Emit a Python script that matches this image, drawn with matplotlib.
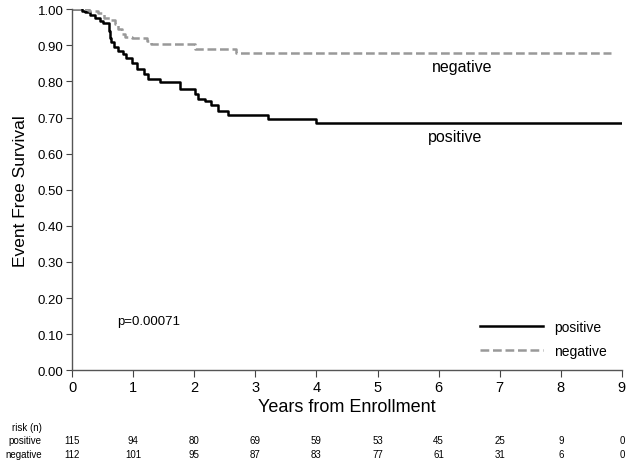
import matplotlib
matplotlib.use('Agg')
import matplotlib.pyplot as plt
from matplotlib.transforms import blended_transform_factory

plt.rcParams['font.family'] = ['Liberation Sans', 'DejaVu Sans']

# Kaplan-Meier step points (time in years, survival)
pos_t = [0, 0.16, 0.21, 0.29, 0.38, 0.46, 0.51, 0.60, 0.62, 0.64, 0.69, 0.76, 0.84, 0.89,
         0.975, 1.06, 1.17, 1.25, 1.44, 1.76, 2.01, 2.06, 2.17, 2.28, 2.39, 2.55, 3.21, 4.0, 9.0]
pos_s = [1.0, 0.995, 0.991, 0.984, 0.975, 0.968, 0.963, 0.940, 0.920, 0.908, 0.894, 0.885,
         0.875, 0.866, 0.852, 0.834, 0.820, 0.806, 0.797, 0.778, 0.765, 0.751, 0.746, 0.734,
         0.718, 0.706, 0.697, 0.686, 0.686]

neg_t = [0, 0.27, 0.43, 0.53, 0.62, 0.70, 0.76, 0.81, 0.87, 0.98, 1.22, 1.30, 2.01, 2.69, 8.82]
neg_s = [1.0, 0.994, 0.989, 0.977, 0.970, 0.958, 0.945, 0.931, 0.923, 0.919, 0.912, 0.903,
         0.891, 0.880, 0.880]

years = [0, 1, 2, 3, 4, 5, 6, 7, 8, 9]
risk_pos = [115, 94, 80, 69, 59, 53, 45, 25, 9, 0]
risk_neg = [112, 101, 95, 87, 83, 77, 61, 31, 6, 0]

fig = plt.figure(figsize=(6.32, 4.64), dpi=100)
ax = fig.add_axes([0.114, 0.200, 0.870, 0.778])

ax.step(pos_t, pos_s, where='post', color='black', lw=1.8, label='positive')
ax.step(neg_t, neg_s, where='post', color='#999999', lw=1.8, ls=(0, (3.5, 1.5)), label='negative')

ax.set_xlim(0, 9)
ax.set_ylim(0, 1.0)
ax.set_xticks(years)
ax.set_yticks([i / 10 for i in range(11)])
ax.set_yticklabels(['%.2f' % (i / 10) for i in range(11)])
ax.tick_params(axis='x', labelsize=10.5, length=5, color='#444444', pad=2)
ax.tick_params(axis='y', labelsize=9.5, length=4, color='#444444', pad=2)
for s in ['top', 'right']:
    ax.spines[s].set_visible(False)
for s in ['left', 'bottom']:
    ax.spines[s].set_color('#555555')
    ax.spines[s].set_linewidth(1.0)
ax.margins(0)

ax.set_xlabel('Years from Enrollment', fontsize=13, labelpad=3)
ax.set_ylabel('Event Free Survival', fontsize=12.5, labelpad=7)

ax.text(0.74, 0.136, 'p=0.00071', fontsize=9.5, va='center')
ax.text(6.39, 0.842, 'negative', fontsize=11.5, ha='center', va='center')
ax.text(6.27, 0.648, 'positive', fontsize=11.5, ha='center', va='center')

ax.legend(loc='lower right', bbox_to_anchor=(0.995, 0.0), frameon=False, fontsize=10,
          handlelength=4.6, handletextpad=0.75, labelspacing=0.7)

# number-at-risk table
tr = blended_transform_factory(ax.transData, fig.transFigure)
ys = [1 - 441 / 464, 1 - 455 / 464]
fig.text(0.066, 1 - 428 / 464, 'risk (n)', fontsize=7, ha='right', va='center')
fig.text(0.066, ys[0], 'positive', fontsize=7, ha='right', va='center')
fig.text(0.066, ys[1], 'negative', fontsize=7, ha='right', va='center')
for x, a, b in zip(years, risk_pos, risk_neg):
    ax.text(x, ys[0], str(a), transform=tr, fontsize=7, ha='center', va='center')
    ax.text(x, ys[1], str(b), transform=tr, fontsize=7, ha='center', va='center')

fig.savefig('out.png', dpi=100)
